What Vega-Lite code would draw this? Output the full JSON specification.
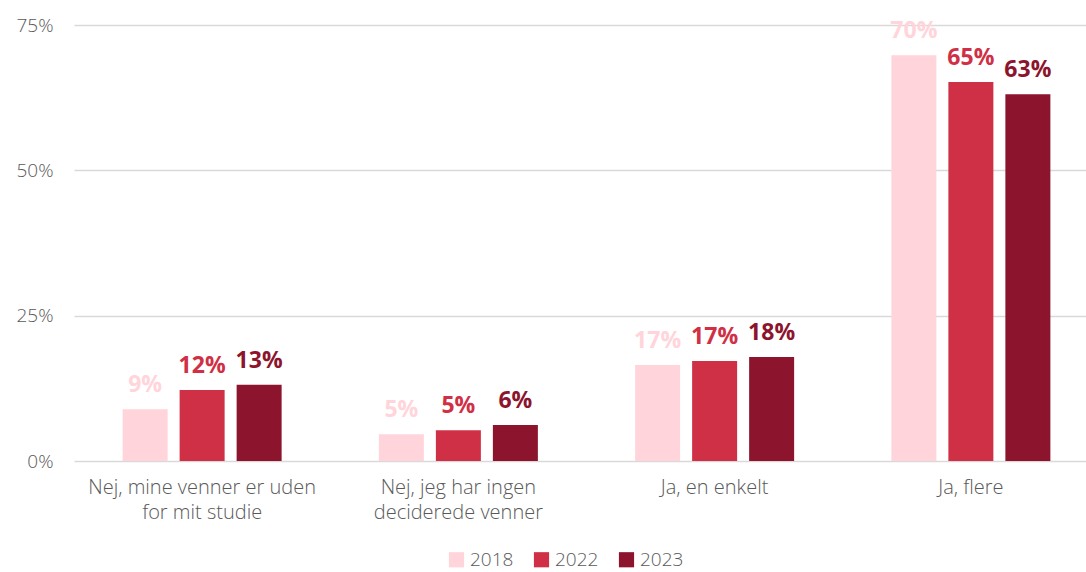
{
  "$schema": "https://vega.github.io/schema/vega-lite/v6.json",
  "width": 1025,
  "height": 436,
  "autosize": "none",
  "padding": {"left": 74, "top": 25, "right": 0, "bottom": 111},
  "background": "white",
  "config": {
    "view": {"stroke": null},
    "font": "Open Sans",
    "axis": {"labelFont": "Open Sans", "labelColor": "#595959", "labelFontWeight": 300},
    "legend": {"labelFont": "Open Sans", "labelFontWeight": 300}
  },
  "data": {
    "values": [
      {"svar": "Nej, mine venner er uden for mit studie", "aar": "2018", "andel": 0.089},
      {"svar": "Nej, mine venner er uden for mit studie", "aar": "2022", "andel": 0.122},
      {"svar": "Nej, mine venner er uden for mit studie", "aar": "2023", "andel": 0.131},
      {"svar": "Nej, jeg har ingen deciderede venner", "aar": "2018", "andel": 0.046},
      {"svar": "Nej, jeg har ingen deciderede venner", "aar": "2022", "andel": 0.053},
      {"svar": "Nej, jeg har ingen deciderede venner", "aar": "2023", "andel": 0.062},
      {"svar": "Ja, en enkelt", "aar": "2018", "andel": 0.165},
      {"svar": "Ja, en enkelt", "aar": "2022", "andel": 0.172},
      {"svar": "Ja, en enkelt", "aar": "2023", "andel": 0.179},
      {"svar": "Ja, flere", "aar": "2018", "andel": 0.698},
      {"svar": "Ja, flere", "aar": "2022", "andel": 0.652},
      {"svar": "Ja, flere", "aar": "2023", "andel": 0.631}
    ]
  },
  "encoding": {
    "x": {
      "field": "svar",
      "type": "nominal",
      "sort": null,
      "title": null,
      "scale": {"paddingInner": 0, "paddingOuter": 0},
      "axis": {
        "domain": false,
        "ticks": false,
        "labelAngle": 0,
        "labelFontSize": 20,
        "labelPadding": 16,
        "labelLineHeight": 25,
        "labelLimit": 0,
        "labelBaseline": "top",
        "labelExpr": "datum.label == 'Nej, mine venner er uden for mit studie' ? ['Nej, mine venner er uden', 'for mit studie'] : datum.label == 'Nej, jeg har ingen deciderede venner' ? ['Nej, jeg har ingen', 'deciderede venner'] : datum.label"
      }
    },
    "xOffset": {
      "field": "aar",
      "type": "nominal",
      "scale": {"paddingInner": 0.2105, "paddingOuter": 0.853}
    },
    "y": {
      "field": "andel",
      "type": "quantitative",
      "title": null,
      "scale": {"domain": [0, 0.75]},
      "axis": {
        "values": [0, 0.25, 0.5, 0.75],
        "format": ".0%",
        "domain": false,
        "ticks": false,
        "labelFontSize": 19,
        "labelPadding": 21,
        "gridColor": "#d9d9d9",
        "gridWidth": 1.5
      }
    },
    "color": {
      "field": "aar",
      "type": "nominal",
      "scale": {"domain": ["2018", "2022", "2023"], "range": ["#FFD5DB", "#D03046", "#8C142D"]},
      "legend": {
        "title": null,
        "orient": "none",
        "legendX": 373,
        "legendY": 525,
        "direction": "horizontal",
        "symbolType": "square",
        "symbolSize": 230,
        "symbolStrokeWidth": 0,
        "labelFontSize": 19,
        "labelColor": "#595959",
        "columnPadding": 18
      }
    }
  },
  "layer": [
    {"mark": {"type": "bar"}},
    {
      "mark": {"type": "text", "fontSize": 23, "fontWeight": "bold", "baseline": "alphabetic", "dy": -17},
      "encoding": {
        "text": {"field": "andel", "type": "quantitative", "format": ".0%"}
      }
    }
  ]
}
